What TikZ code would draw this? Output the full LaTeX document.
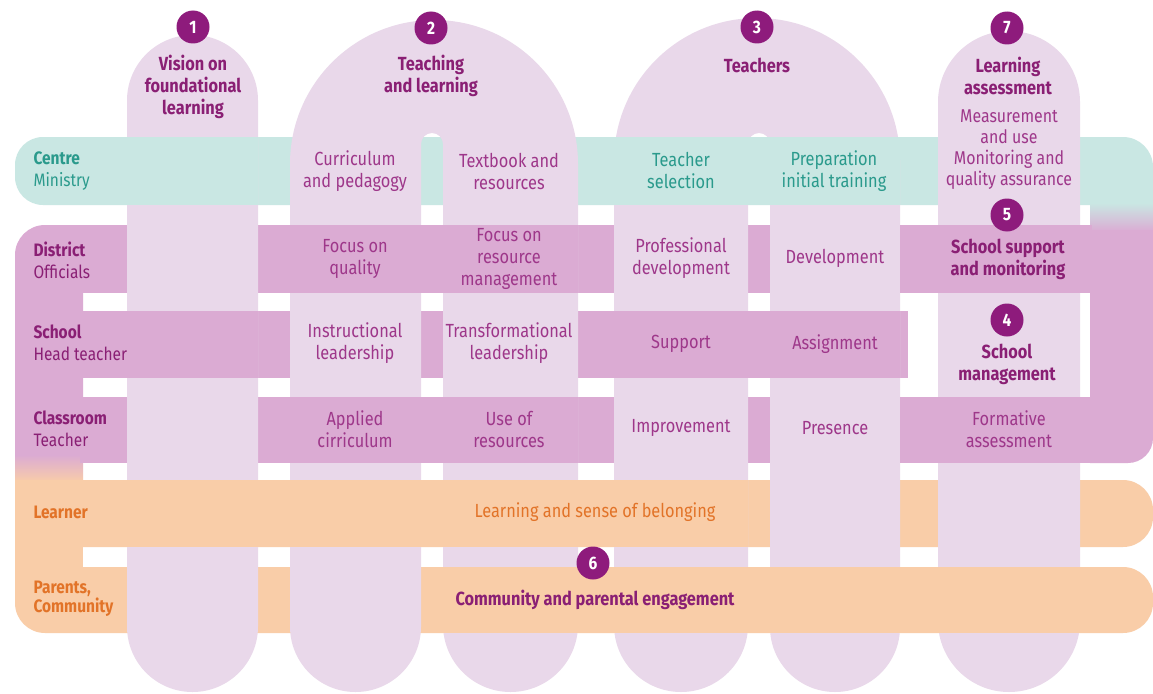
\documentclass[tikz,border=0pt]{standalone}
\usepackage{fontspec}
\setmainfont{Fira Sans}[FakeStretch=0.86]
\definecolor{bandTeal}{HTML}{C9E7E3}
\definecolor{bandPurple}{HTML}{DBABD3}
\definecolor{bandOrange}{HTML}{F9CDA8}
\definecolor{pillar}{HTML}{E9D8EA}
\definecolor{numPurple}{HTML}{8E1B7C}
\definecolor{txtPurple}{HTML}{9E378A}
\definecolor{hdPurple}{HTML}{8A1F74}
\definecolor{txtTeal}{HTML}{2A9A8C}
\definecolor{txtOrange}{HTML}{E27328}
\begin{document}
\begin{tikzpicture}[x=1pt,y=1pt,
    lbl/.style={align=center,text=txtPurple,font=\fontsize{19}{22}\selectfont},
    hdr/.style={align=center,text=hdPurple,font=\fontsize{19}{22}\selectfont\bfseries},
    rowlbl/.style={anchor=west,align=left,font=\fontsize{18}{22}\selectfont},
    num/.style={circle,fill=numPurple,text=white,minimum size=33pt,inner sep=0pt,font=\fontsize{18}{18}\selectfont\bfseries}]
    \fill[white] (0,0) rectangle (1153,-693);
    \useasboundingbox (0,0) rectangle (1153,-693);
    % horizontal bands, underneath
    \fill[bandTeal] (1095,-137) -- (43,-137) arc[start angle=90,end angle=180,radius=28] -- (15,-165) -- (15,-177) arc[start angle=180,end angle=270,radius=28] -- (1095,-205) -- cycle;% centre
    \fill[bandTeal] (1090,-212) -- (1090,-137) -- (1123,-137) arc[start angle=90,end angle=0,radius=30] -- (1153,-212) -- cycle;% right bar
    \shade[top color=bandTeal,bottom color=bandPurple] (1090,-203) rectangle (1153,-232);
    \fill[bandPurple] (1090,-230) -- (1153,-230) -- (1153,-438) arc[start angle=0,end angle=-90,radius=25] -- (1090,-463) -- cycle;
    \fill[bandPurple] (83,-225) -- (45,-225) arc[start angle=90,end angle=180,radius=30] -- (15,-457) -- (83,-457) -- cycle;% left bar
    \shade[top color=bandPurple,bottom color=bandOrange] (15,-455) rectangle (83,-482);
    \fill[bandOrange] (15,-480) rectangle (83,-590);
    \fill[bandPurple] (80,-225) rectangle (1092,-293);% district
    \fill[bandPurple] (80,-311) rectangle (908,-378);% school
    \fill[bandPurple] (80,-397) rectangle (1092,-463);% classroom
    \fill[bandOrange] (80,-480) -- (1123,-480) arc[start angle=90,end angle=0,radius=30] -- (1153,-517) arc[start angle=0,end angle=-90,radius=30] -- (80,-547) -- cycle;% learner
    \fill[bandOrange] (15,-567) -- (1123,-567) arc[start angle=90,end angle=0,radius=30] -- (1153,-603) arc[start angle=0,end angle=-90,radius=30] -- (45,-633) arc[start angle=270,end angle=180,radius=30] -- cycle;% parents
    % pillars
    \fill[pillar] (127,-626.5) -- (127,-100.5) arc[start angle=180,end angle=0,radius=65.5] -- (258,-626.5) arc[start angle=0,end angle=-180,radius=65.5] -- cycle;
    \fill[pillar] (290,-626.5) -- (290,-164) arc[start angle=180,end angle=0,radius=144] -- (578,-624.5) arc[start angle=0,end angle=-180,radius=67.5] -- (443,-144) arc[start angle=0,end angle=180,radius=11] -- (421,-626.5) arc[start angle=0,end angle=-180,radius=65.5] -- cycle;
    \fill[pillar] (614,-625) -- (614,-161) arc[start angle=180,end angle=0,radius=143] -- (900,-627) arc[start angle=0,end angle=-180,radius=65] -- (770,-144) arc[start angle=0,end angle=180,radius=11] -- (748,-625) arc[start angle=0,end angle=-180,radius=67] -- cycle;
    \fill[pillar] (938,-621) -- (938,-102) arc[start angle=180,end angle=0,radius=71] -- (1080,-621) arc[start angle=0,end angle=-180,radius=71] -- cycle;
    % bands woven over the pillars
    \fill[bandTeal] (127,-137) rectangle (258,-205);
    \fill[bandTeal] (614,-137) rectangle (900,-205);
    \fill[bandPurple] (290,-225) rectangle (578,-293);
    \fill[bandPurple] (900,-225) rectangle (1092,-293);
    \fill[bandPurple] (127,-311) rectangle (258,-378);
    \fill[bandPurple] (614,-311) rectangle (900,-378);
    \fill[bandPurple] (290,-397) rectangle (578,-463);
    \fill[bandPurple] (900,-397) rectangle (1092,-463);
    \fill[bandOrange] (127,-480) rectangle (748,-547);
    \fill[bandOrange] (443,-567) rectangle (1092,-633);
    % numbers
    \node[num] (n1) at (193,-27) {1};
    \node[num] (n2) at (431,-28) {2};
    \node[num] (n3) at (757,-27) {3};
    \node[num] (n7) at (1007,-28) {7};
    \node[num] (n5) at (1007,-215) {5};
    \node[num] (n4) at (1007,-320) {4};
    \node[num] (n6) at (593,-563) {6};
    % pillar titles
    \node[hdr] (vision) at (193,-87) {Vision on\\foundational\\learning};
    \node[hdr] (teaching) at (431,-76) {Teaching\\and learning};
    \node[hdr] (teachers) at (757,-65) {Teachers};
    \node[hdr] (assess) at (1008,-76) {Learning\\assessment};
    % row labels
    \node[rowlbl,text=txtTeal] (centre) at (30,-171) {\textbf{Centre}\\Ministry};
    \node[rowlbl,text=hdPurple] (district) at (30,-260) {\textbf{District}\\Officials};
    \node[rowlbl,text=hdPurple] (school) at (30,-343) {\textbf{School}\\Head teacher};
    \node[rowlbl,text=hdPurple] (classroom) at (30,-429) {\textbf{Classroom}\\Teacher};
    \node[rowlbl,text=txtOrange,font=\fontsize{18}{19}\selectfont\bfseries] (learner) at (30,-512) {Learner};
    \node[rowlbl,text=txtOrange,font=\fontsize{18}{19}\selectfont\bfseries] (parents) at (30,-599) {Parents,\\Community};
    % centre row
    \node[lbl] (curric) at (355,-171) {Curriculum\\and pedagogy};
    \node[lbl] (textbook) at (509,-171) {Textbook and\\resources};
    \node[lbl,text=txtTeal] (selection) at (681,-171) {Teacher\\selection};
    \node[lbl,text=txtTeal] (prep) at (834,-171) {Preparation\\initial training};
    \node[lbl,font=\fontsize{18.5}{21}\selectfont] (measure) at (1009,-150) {Measurement\\and use\\Monitoring and\\quality assurance};
    % district row
    \node[lbl] (quality) at (355,-259) {Focus on\\quality};
    \node[lbl] (resource) at (509,-259) {Focus on\\resource\\management};
    \node[lbl] (profdev) at (681,-258) {Professional\\development};
    \node[lbl] (develop) at (835,-258) {Development};
    \node[hdr] (support) at (1008,-259) {School support\\and monitoring};
    % school row
    \node[lbl] (instruct) at (355,-343) {Instructional\\leadership};
    \node[lbl] (transform) at (509,-343) {Transformational\\leadership};
    \node[lbl] (supp) at (681,-344) {Support};
    \node[lbl] (assign) at (835,-344) {Assignment};
    \node[hdr] (mgmt) at (1007,-364) {School\\management};
    % classroom row
    \node[lbl] (applied) at (355,-429) {Applied\\cirriculum};
    \node[lbl] (useres) at (509,-429) {Use of\\resources};
    \node[lbl] (improve) at (681,-428) {Improvement};
    \node[lbl] (presence) at (835,-428) {Presence};
    \node[lbl] (formative) at (1009,-429) {Formative\\assessment};
    % learner and parents rows
    \node[lbl,text=txtOrange] (belong) at (595,-512) {Learning and sense of belonging};
    \node[hdr] (community) at (595,-600) {Community and parental engagement};
\end{tikzpicture}
\end{document}
